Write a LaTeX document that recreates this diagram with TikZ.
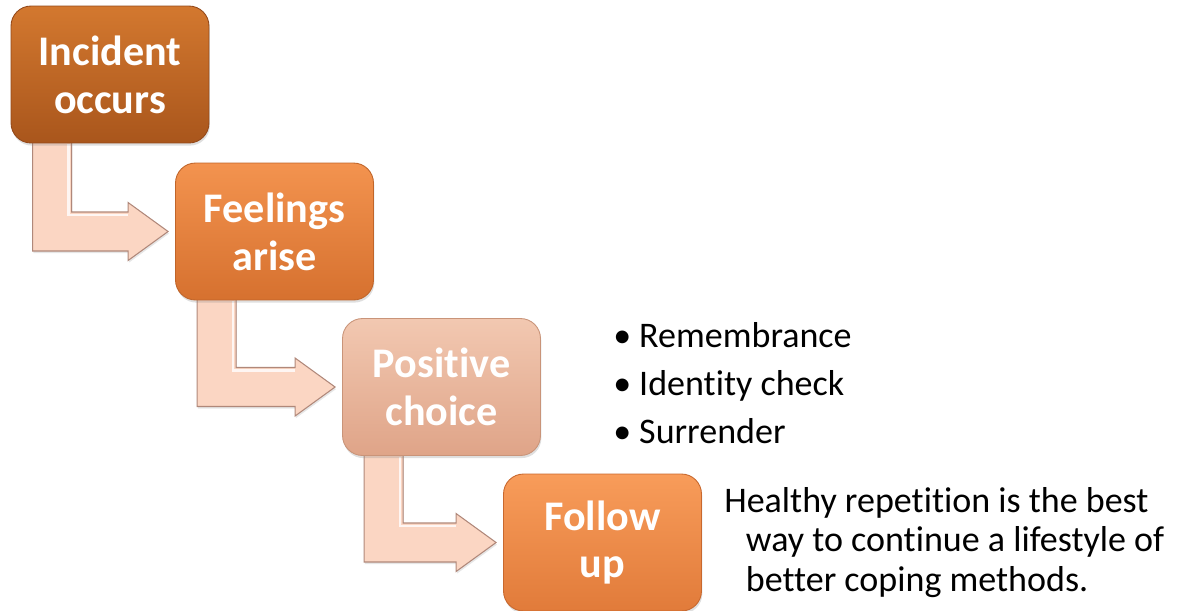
\documentclass[tikz,border=0pt]{standalone}
\usepackage{fontspec}
\setmainfont{Carlito}[Ligatures=NoCommon]
\usetikzlibrary{calc,shadows,backgrounds}

\definecolor{incidentTop}{HTML}{D3782F}
\definecolor{incidentBot}{HTML}{A9561C}
\definecolor{incidentEdge}{HTML}{94491A}
\definecolor{feelTop}{HTML}{F3934F}
\definecolor{feelBot}{HTML}{D6712F}
\definecolor{feelEdge}{HTML}{C0652A}
\definecolor{choiceTop}{HTML}{F2C8B1}
\definecolor{choiceBot}{HTML}{DFA488}
\definecolor{choiceEdge}{HTML}{C99479}
\definecolor{followTop}{HTML}{F89C5A}
\definecolor{followBot}{HTML}{E17B3A}
\definecolor{followEdge}{HTML}{C8682E}
\definecolor{arrowFill}{HTML}{FBD6C3}
\definecolor{arrowEdge}{HTML}{B0887A}

\tikzset{
  stage/.style={rounded corners=0.4cm, minimum width=3.96cm, minimum height=2.74cm,
    align=center, text=white, font=\bfseries\fontsize{24}{27.3}\selectfont,
    line width=0.5pt, drop shadow={opacity=0.25, shadow xshift=0.5pt, shadow yshift=-1.5pt}},
  flowarrow/.style={fill=arrowFill, draw=arrowEdge, line width=0.6pt,
    drop shadow={opacity=0.2, shadow xshift=0.5pt, shadow yshift=-1.2pt}},
  shine/.style={draw=white, line width=1.6pt, opacity=0.8},
  bodytext/.style={inner sep=0pt, align=left, text=black}
}

% bent arrow from under one stage to the west side of the next
\newcommand{\bentarrow}[2]{%
  \path ($(#1.south west)+(22,-3)$) coordinate (#1-l)
        ($(#1.south west)+(61,-3)$) coordinate (#1-r)
        ($(#2.west)+(-47,-19.5)$) coordinate (#2-bt)
        ($(#2.west)+(-47,19.5)$) coordinate (#2-bb)
        ($(#2.west)+(-47,-29)$) coordinate (#2-ht)
        ($(#2.west)+(-47,29)$) coordinate (#2-hb)
        ($(#2.west)+(-7,0)$) coordinate (#2-tip);
  \draw[flowarrow] (#1-l) -- (#1-r) -- (#1-r |- #2-bt) -- (#2-bt) -- (#2-ht)
    -- (#2-tip) -- (#2-hb) -- (#2-bb) -- (#1-l |- #2-bb) -- cycle;
  \draw[shine] ($(#1-r)+(-3,4)$) -- ($(#1-r |- #2-bt)+(-3,3)$) -- ($(#2-bt)+(0,3)$);
}

\begin{document}
\begin{tikzpicture}[x=0.02cm, y=-0.02cm]
\useasboundingbox (0,0) rectangle (1186,610);

\node[stage, top color=incidentTop, bottom color=incidentBot, draw=incidentEdge]
  (incident) at (110,74.5) {Incident\\occurs};
\node[stage, top color=feelTop, bottom color=feelBot, draw=feelEdge]
  (feelings) at (274.5,231.5) {Feelings\\arise};
\node[stage, top color=choiceTop, bottom color=choiceBot, draw=choiceEdge]
  (choice) at (441.5,387) {Positive\\choice};
\node[stage, top color=followTop, bottom color=followBot, draw=followEdge]
  (follow) at (602.5,542.5) {Follow\\up};

\begin{scope}[on background layer]
\bentarrow{incident}{feelings}
\bentarrow{feelings}{choice}
\bentarrow{choice}{follow}
\end{scope}

\node[bodytext, anchor=north west, font=\fontsize{20.5}{27.3}\selectfont]
  (steps) at (613,322) {\textbullet\hspace{0.22em}Remembrance\\
  \textbullet\hspace{0.22em}Identity check\\
  \textbullet\hspace{0.22em}Surrender};

\node[bodytext, anchor=north west, font=\fontsize{20.5}{22.4}\selectfont]
  (note) at (724,487) {Healthy repetition is the best\\
  \hspace*{0.6em}way to continue a lifestyle of\\
  \hspace*{0.6em}better coping methods.};
\end{tikzpicture}
\end{document}
